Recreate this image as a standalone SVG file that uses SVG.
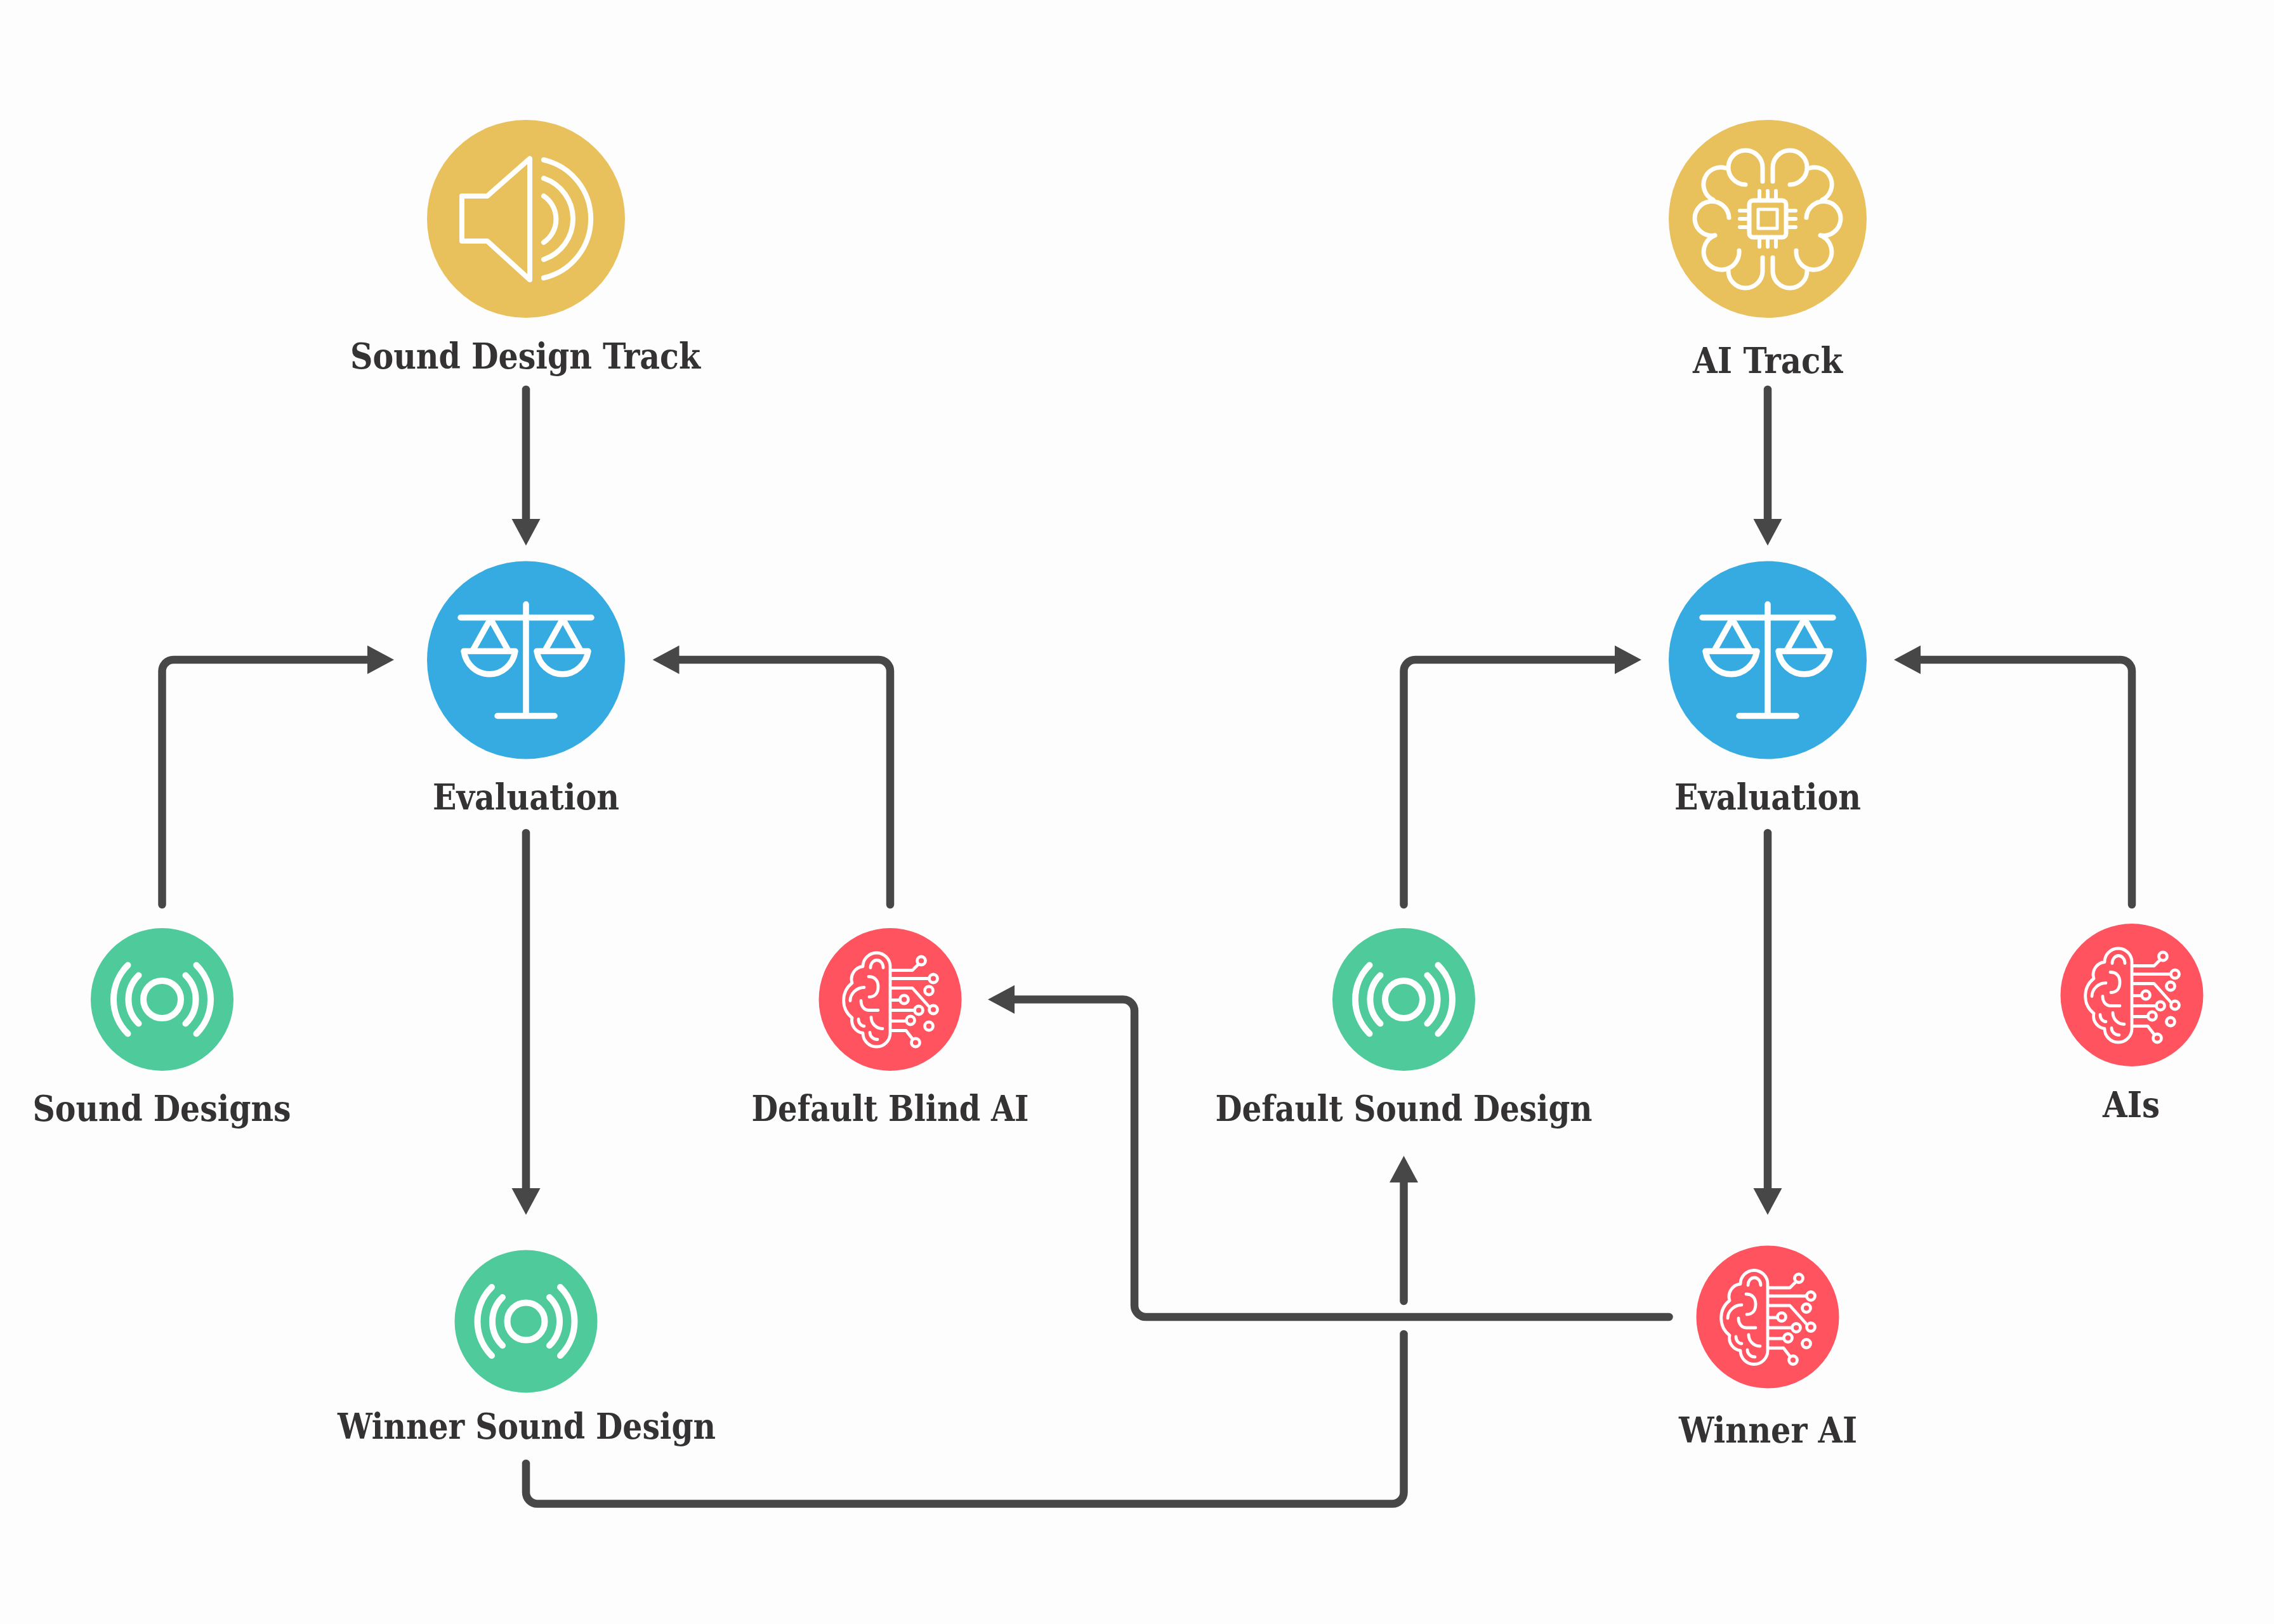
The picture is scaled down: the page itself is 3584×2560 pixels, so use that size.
<svg xmlns="http://www.w3.org/2000/svg" width="3584" height="2560" viewBox="0 0 3584 2560">
<style>
.lbl{font-family:"DejaVu Serif Condensed","DejaVu Serif","Liberation Serif",serif;font-weight:700;font-size:56px;fill:#343233;text-anchor:middle}
.ic{fill:none;stroke:#fff;stroke-linecap:round;stroke-linejoin:round}
.conn{fill:none;stroke:#474747;stroke-width:12.5;stroke-linecap:round;stroke-linejoin:round}
.yellow{fill:#E8C15C}.blue{fill:#36ABE2}.red{fill:#FF535F}.green{fill:#4ECA9B}
</style>
<defs>
<marker id="arrow" markerUnits="userSpaceOnUse" markerWidth="42" markerHeight="46" refX="1" refY="23" orient="auto"><polygon points="0,0.5 42,23 0,45.5" fill="#474747"/></marker>
<g id="i-speaker" class="ic" stroke-width="8">
<path d="M-101,-36H-61L6,-95V96L-61,35H-101Z"/>
<path d="M28,-93A95.4,95.4 0 0 1 28,93M28,-64A67.5,67.5 0 0 1 28,64M28,-36A44,44 0 0 1 28,37"/>
</g>
<g id="i-half"><path d="M-8,-59V-81A27,27 0 0 0 -62,-81A27,27 0 0 0 -35,-54M-63,-80H-66A27,27 0 0 0 -86,-30M-61,-2A27,27 0 1 0 -83,26M-83,26A28,28 0 1 0 -45,50M-62,78V81A27,27 0 0 0 -8,83V61"/></g>
<g id="i-chipbrain" class="ic" stroke-width="7">
<use href="#i-half"/><use href="#i-half" transform="scale(-1,1)"/>
<rect x="-29" y="-29" width="58" height="58" rx="6"/>
<rect x="-15" y="-15" width="30" height="30" stroke-width="5"/>
<path stroke-width="6" d="M-13,-44V-29M0,-44V-29M13,-44V-29M-13,44V29M0,44V29M13,44V29M-44,-13H-29M-44,0H-29M-44,13H-29M44,-13H29M44,0H29M44,13H29"/>
</g>
<g id="i-scales" class="ic" stroke-width="9.5">
<path d="M-103,-67H103M0,-88V88M-45,88H45"/>
<path d="M-56,-65L-84,-15M-56,-65L-28,-15M58,-65L30,-15M58,-65L86,-15"/>
<path d="M-98,-14H-17A41,43 0 0 1 -98,-14ZM17,-14H98A41,43 0 0 1 17,-14Z"/>
</g>
<g id="i-waves" class="ic" stroke-width="10">
<circle r="29.5"/>
<path d="M-37,-38A53,53 0 0 0 -37,38M37,-38A53,53 0 0 1 37,38M-54,-54A76,76 0 0 0 -54,54M54,-54A76,76 0 0 1 54,54"/>
</g>
<g id="i-aibrain" class="ic" stroke-width="4.8">
<path d="M0,-52A21,21 0 0 0 -43,-52A20,20 0 0 0 -60,-26A35,35 0 0 0 -60,29A20,20 0 0 0 -43,53A21,21 0 0 0 0,53Z"/>
<path d="M-31,-50A10,12 0 0 1 -11,-50M-34,-36C-24,-36 -19,-30 -19,-20C-19,-10 -24,-4 -33,-4M-41,-19C-53,-19 -63,-9 -63,2M-46,2C-46,11 -41,17 -33,17H-19M-30,28C-30,38 -22,46 -12,46M-50,31C-50,37 -46,42 -41,42M-32,52C-32,58 -27,63 -20,63"/>
<path d="M2,-46H35L44,-55M2,-33H60M2,-18H35L61,11M2,1H15M2,17H38M2,34H25M2,49H25L35,62"/>
<circle cx="49" cy="-61" r="6.5"/><circle cx="68" cy="-33" r="6.5"/><circle cx="61" cy="-14" r="6.5"/><circle cx="68" cy="16" r="6.5"/><circle cx="22" cy="0" r="6.5"/><circle cx="45" cy="17" r="6.5"/><circle cx="32" cy="33" r="6.5"/><circle cx="61" cy="42" r="6.5"/><circle cx="40" cy="68" r="6.5"/>
</g>
</defs>
<rect width="3584" height="2560" fill="#FDFDFD"/>
<g id="connectors">
<path class="conn" marker-end="url(#arrow)" d="M829,614V819"/>
<path class="conn" marker-end="url(#arrow)" d="M2786,614V819"/>
<path class="conn" marker-end="url(#arrow)" d="M255.5,1426V1058A18,18 0 0 1 273.5,1040H580"/>
<path class="conn" marker-end="url(#arrow)" d="M1403,1426V1058A18,18 0 0 0 1385,1040H1069.5"/>
<path class="conn" marker-end="url(#arrow)" d="M2212.5,1426V1058A18,18 0 0 1 2230.5,1040H2546"/>
<path class="conn" marker-end="url(#arrow)" d="M3360,1426V1058A18,18 0 0 0 3342,1040H3026"/>
<path class="conn" marker-end="url(#arrow)" d="M829,1313V1874"/>
<path class="conn" marker-end="url(#arrow)" d="M2786,1313V1874"/>
<path class="conn" marker-end="url(#arrow)" d="M2630.5,2076H1806A18,18 0 0 1 1788,2058V1593.5A18,18 0 0 0 1770,1575.5H1598"/>
<path class="conn" d="M829,2307V2352.5A18,18 0 0 0 847,2370.5H2194.5A18,18 0 0 0 2212.5,2352.5V2103"/>
<path class="conn" marker-end="url(#arrow)" d="M2212.5,2051V1863"/>
</g>
<g id="node-sound-track"><circle class="yellow" cx="829" cy="345" r="156"/><use href="#i-speaker" x="829" y="345"/><text class="lbl" x="828" y="581" textLength="552" lengthAdjust="spacingAndGlyphs">Sound Design Track</text></g>
<g id="node-ai-track"><circle class="yellow" cx="2786" cy="345" r="156"/><use href="#i-chipbrain" x="2786" y="345"/><text class="lbl" x="2786" y="588" textLength="236" lengthAdjust="spacingAndGlyphs">AI Track</text></g>
<g id="node-eval-left"><circle class="blue" cx="829" cy="1040.5" r="156"/><use href="#i-scales" x="829" y="1040.5"/><text class="lbl" x="829" y="1276" textLength="294" lengthAdjust="spacingAndGlyphs">Evaluation</text></g>
<g id="node-eval-right"><circle class="blue" cx="2786" cy="1040.5" r="156"/><use href="#i-scales" x="2786" y="1040.5"/><text class="lbl" x="2786" y="1276" textLength="294" lengthAdjust="spacingAndGlyphs">Evaluation</text></g>
<g id="node-sound-designs"><circle class="green" cx="255.5" cy="1575.5" r="112.5"/><use href="#i-waves" x="255.5" y="1575.5"/><text class="lbl" x="255" y="1767" textLength="407" lengthAdjust="spacingAndGlyphs">Sound Designs</text></g>
<g id="node-default-blind-ai"><circle class="red" cx="1403" cy="1575.5" r="112.5"/><use href="#i-aibrain" x="1403" y="1575.5"/><text class="lbl" x="1403" y="1767" textLength="437" lengthAdjust="spacingAndGlyphs">Default Blind AI</text></g>
<g id="node-default-sound"><circle class="green" cx="2212.5" cy="1575.5" r="112.5"/><use href="#i-waves" x="2212.5" y="1575.5"/><text class="lbl" x="2212.5" y="1767" textLength="594" lengthAdjust="spacingAndGlyphs">Default Sound Design</text></g>
<g id="node-ais"><circle class="red" cx="3360" cy="1568.5" r="112.5"/><use href="#i-aibrain" x="3360" y="1568.5"/><text class="lbl" x="3359" y="1761" textLength="90" lengthAdjust="spacingAndGlyphs">AIs</text></g>
<g id="node-winner-sound"><circle class="green" cx="829" cy="2083" r="112.5"/><use href="#i-waves" x="829" y="2083"/><text class="lbl" x="830" y="2268" textLength="596" lengthAdjust="spacingAndGlyphs">Winner Sound Design</text></g>
<g id="node-winner-ai"><circle class="red" cx="2786" cy="2076" r="112.5"/><use href="#i-aibrain" x="2786" y="2076"/><text class="lbl" x="2786.5" y="2274" textLength="281" lengthAdjust="spacingAndGlyphs">Winner AI</text></g>
</svg>
